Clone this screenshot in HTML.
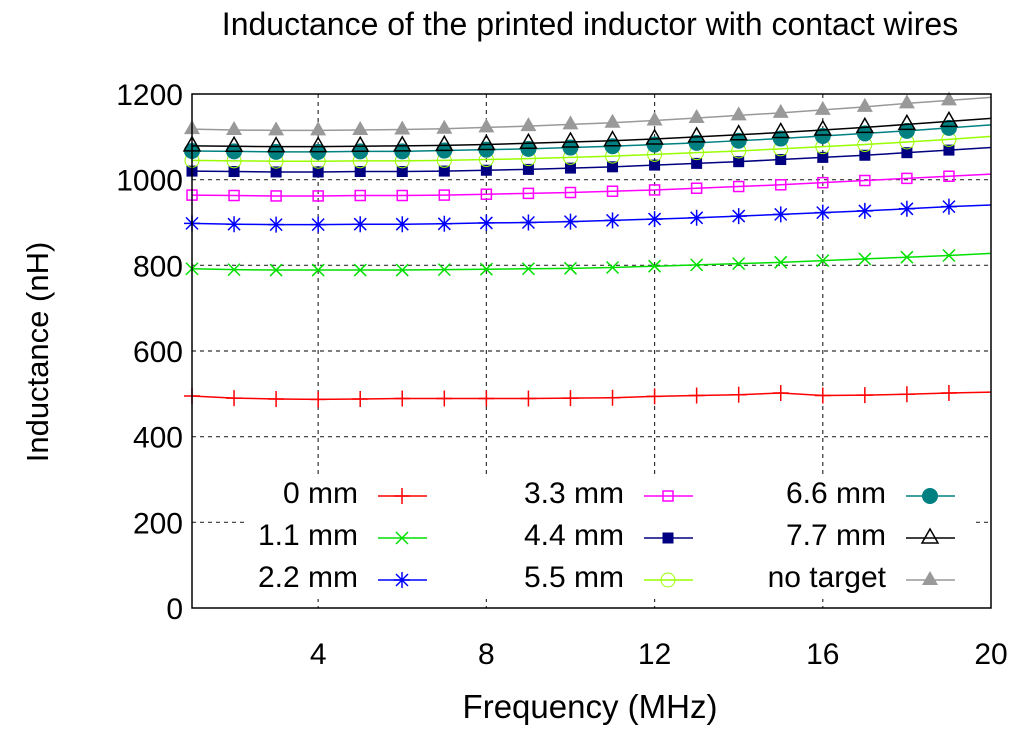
<!DOCTYPE html>
<html><head><meta charset="utf-8"><style>
html,body{margin:0;padding:0;background:#fff;}
svg{display:block;font-family:"Liberation Sans",sans-serif;}
</style></head><body>
<svg id="chart" width="1024" height="736" viewBox="0 0 1024 736">
<text x="590" y="35" font-size="32" text-anchor="middle">Inductance of the printed inductor with contact wires</text>
<text x="590" y="718" font-size="33" text-anchor="middle">Frequency (MHz)</text>
<text transform="translate(48,352) rotate(-90)" font-size="31" text-anchor="middle">Inductance (nH)</text>
<g id="grid"></g><g id="series"></g><g id="axes"></g><g id="legend"></g>
</svg>
<script>
const freqs=[1,2,3,4,5,6,7,8,9,10,11,12,13,14,15,16,17,18,19,20];
const xTicks=[4,8,12,16,20];
const yTicks=[0,200,400,600,800,1000,1200];
const s0=[495,490,488,487,488,489,489,489,489,490,491,494,496,498,502,496,497,499,502,504];
const s1=[792,790,789,789,789,789,790,791,792,793,795,798,801,804,807,811,815,819,823,828];
const s2=[898,896,895,895,896,896,897,899,900,902,905,908,911,915,919,923,927,932,937,941];
const s3=[964,963,962,962,963,963,964,966,968,970,973,976,980,984,988,993,998,1003,1008,1013];
const s4=[1020,1019,1018,1018,1019,1019,1020,1022,1024,1027,1030,1034,1038,1042,1047,1052,1057,1063,1069,1075];
const s5=[1045,1044,1043,1043,1044,1044,1045,1047,1049,1052,1055,1059,1063,1067,1072,1077,1082,1088,1094,1101];
const s6=[1067,1066,1065,1065,1066,1066,1068,1070,1072,1075,1078,1082,1086,1091,1096,1102,1108,1114,1121,1128];
const s7=[1079,1078,1077,1077,1078,1079,1080,1082,1085,1088,1091,1095,1100,1105,1110,1116,1122,1129,1136,1143];
const s8=[1118,1116,1115,1115,1116,1117,1119,1122,1125,1129,1133,1138,1144,1150,1156,1163,1170,1178,1185,1192];
const seriesNames=["0 mm","1.1 mm","2.2 mm","3.3 mm","4.4 mm","5.5 mm","6.6 mm","7.7 mm","no target"];
const seriesData=[s0,s1,s2,s3,s4,s5,s6,s7,s8];
const colors=["#ff0000","#00e000","#0000ff","#ff00ff","#000080","#99ff00","#008080","#000000","#999999"];
const markers=["plus","x","star","sq","fsq","circ","fcirc","tri","ftri"];
const X0=192,X1=991,Y0=608,Y1=94;
const xs=v=>X0+(v-1)*(X1-X0)/19;
const ys=v=>Y0-v*(Y0-Y1)/1200;
const NS="http://www.w3.org/2000/svg";
function mk(t,a,p){const e=document.createElementNS(NS,t);for(const k in a)e.setAttribute(k,a[k]);p.appendChild(e);return e;}
const grid=document.getElementById('grid'),axes=document.getElementById('axes'),ser=document.getElementById('series'),leg=document.getElementById('legend');
xTicks.forEach(t=>{
 if(t<20){const l=mk('line',{x1:xs(t),x2:xs(t),y1:Y1,y2:Y0,stroke:'#333','stroke-dasharray':'4,4','stroke-width':1.2},grid);
 
 }
 const tx=mk('text',{x:xs(t),y:664,'font-size':30,'text-anchor':'middle'},axes);tx.textContent=t;
 
 
});
yTicks.forEach(t=>{
 if(t>0&&t<1200){const l=mk('line',{x1:X0,x2:X1,y1:ys(t),y2:ys(t),stroke:'#333','stroke-dasharray':'4,4','stroke-width':1.2},grid);
 
 }
 const tx=mk('text',{x:183,y:ys(t)+11,'font-size':30,'text-anchor':'end'},axes);tx.textContent=t;
 
 
});
const fr=mk('rect',{x:X0,y:Y1,width:X1-X0,height:Y0-Y1,fill:'none',stroke:'#000','stroke-width':1.5},axes);


function marker(type,x,y,c,p){
 const g=mk('g',{},p);
 if(type==='plus'){mk('path',{d:`M${x-8} ${y}H${x+8}M${x} ${y-8}V${y+8}`,stroke:c,'stroke-width':1.5},g);}
 else if(type==='x'){mk('path',{d:`M${x-6} ${y-6}L${x+6} ${y+6}M${x-6} ${y+6}L${x+6} ${y-6}`,stroke:c,'stroke-width':1.5},g);}
 else if(type==='star'){mk('path',{d:`M${x-6} ${y-6}L${x+6} ${y+6}M${x-6} ${y+6}L${x+6} ${y-6}M${x} ${y-8}V${y+8}M${x-8} ${y}H${x+8}`,stroke:c,'stroke-width':1.5},g);}
 else if(type==='sq'){mk('rect',{x:x-5,y:y-5,width:10,height:10,fill:'none',stroke:c,'stroke-width':1.5},g);}
 else if(type==='fsq'){mk('rect',{x:x-5.5,y:y-5.5,width:11,height:11,fill:c},g);}
 else if(type==='circ'){mk('circle',{cx:x,cy:y,r:7,fill:'none',stroke:c,'stroke-width':1},g);}
 else if(type==='fcirc'){mk('circle',{cx:x,cy:y,r:8,fill:c},g);}
 else if(type==='tri'){mk('path',{d:`M${x} ${y-9}L${x+8} ${y+5}L${x-8} ${y+5}Z`,fill:'none',stroke:c,'stroke-width':1.5},g);}
 else if(type==='ftri'){mk('path',{d:`M${x} ${y-9}L${x+8} ${y+5}L${x-8} ${y+5}Z`,fill:c},g);}
 return g;
}
seriesData.forEach((d,i)=>{
 const g=mk('g',{},ser);
 
 
 const pts=d.map((v,j)=>xs(freqs[j])+','+ys(v)).join(' ');
 mk('polyline',{points:pts,fill:'none',stroke:colors[i],'stroke-width':1.5},g);
 d.forEach((v,j)=>{if(freqs[j]<20){const m=marker(markers[i],xs(freqs[j]),ys(v),colors[i],g);
  
  }});
});
const lb=mk('rect',{x:245,y:476,width:730,height:123,fill:'#fff'},leg);


const colX=[358,624,886];
seriesNames.forEach((n,i)=>{
 const c=Math.floor(i/3),r=i%3,y=492+r*42;
 const g=mk('g',{},leg);
 
 
 const t=mk('text',{x:colX[c],y:y+11,'font-size':30,'text-anchor':'end'},g);t.textContent=n;
 mk('line',{x1:colX[c]+20,x2:colX[c]+69,y1:y+4,y2:y+4,stroke:colors[i],'stroke-width':1.5},g);
 marker(markers[i],colX[c]+44,y+4,colors[i],g);
});
</script>
</body></html>
